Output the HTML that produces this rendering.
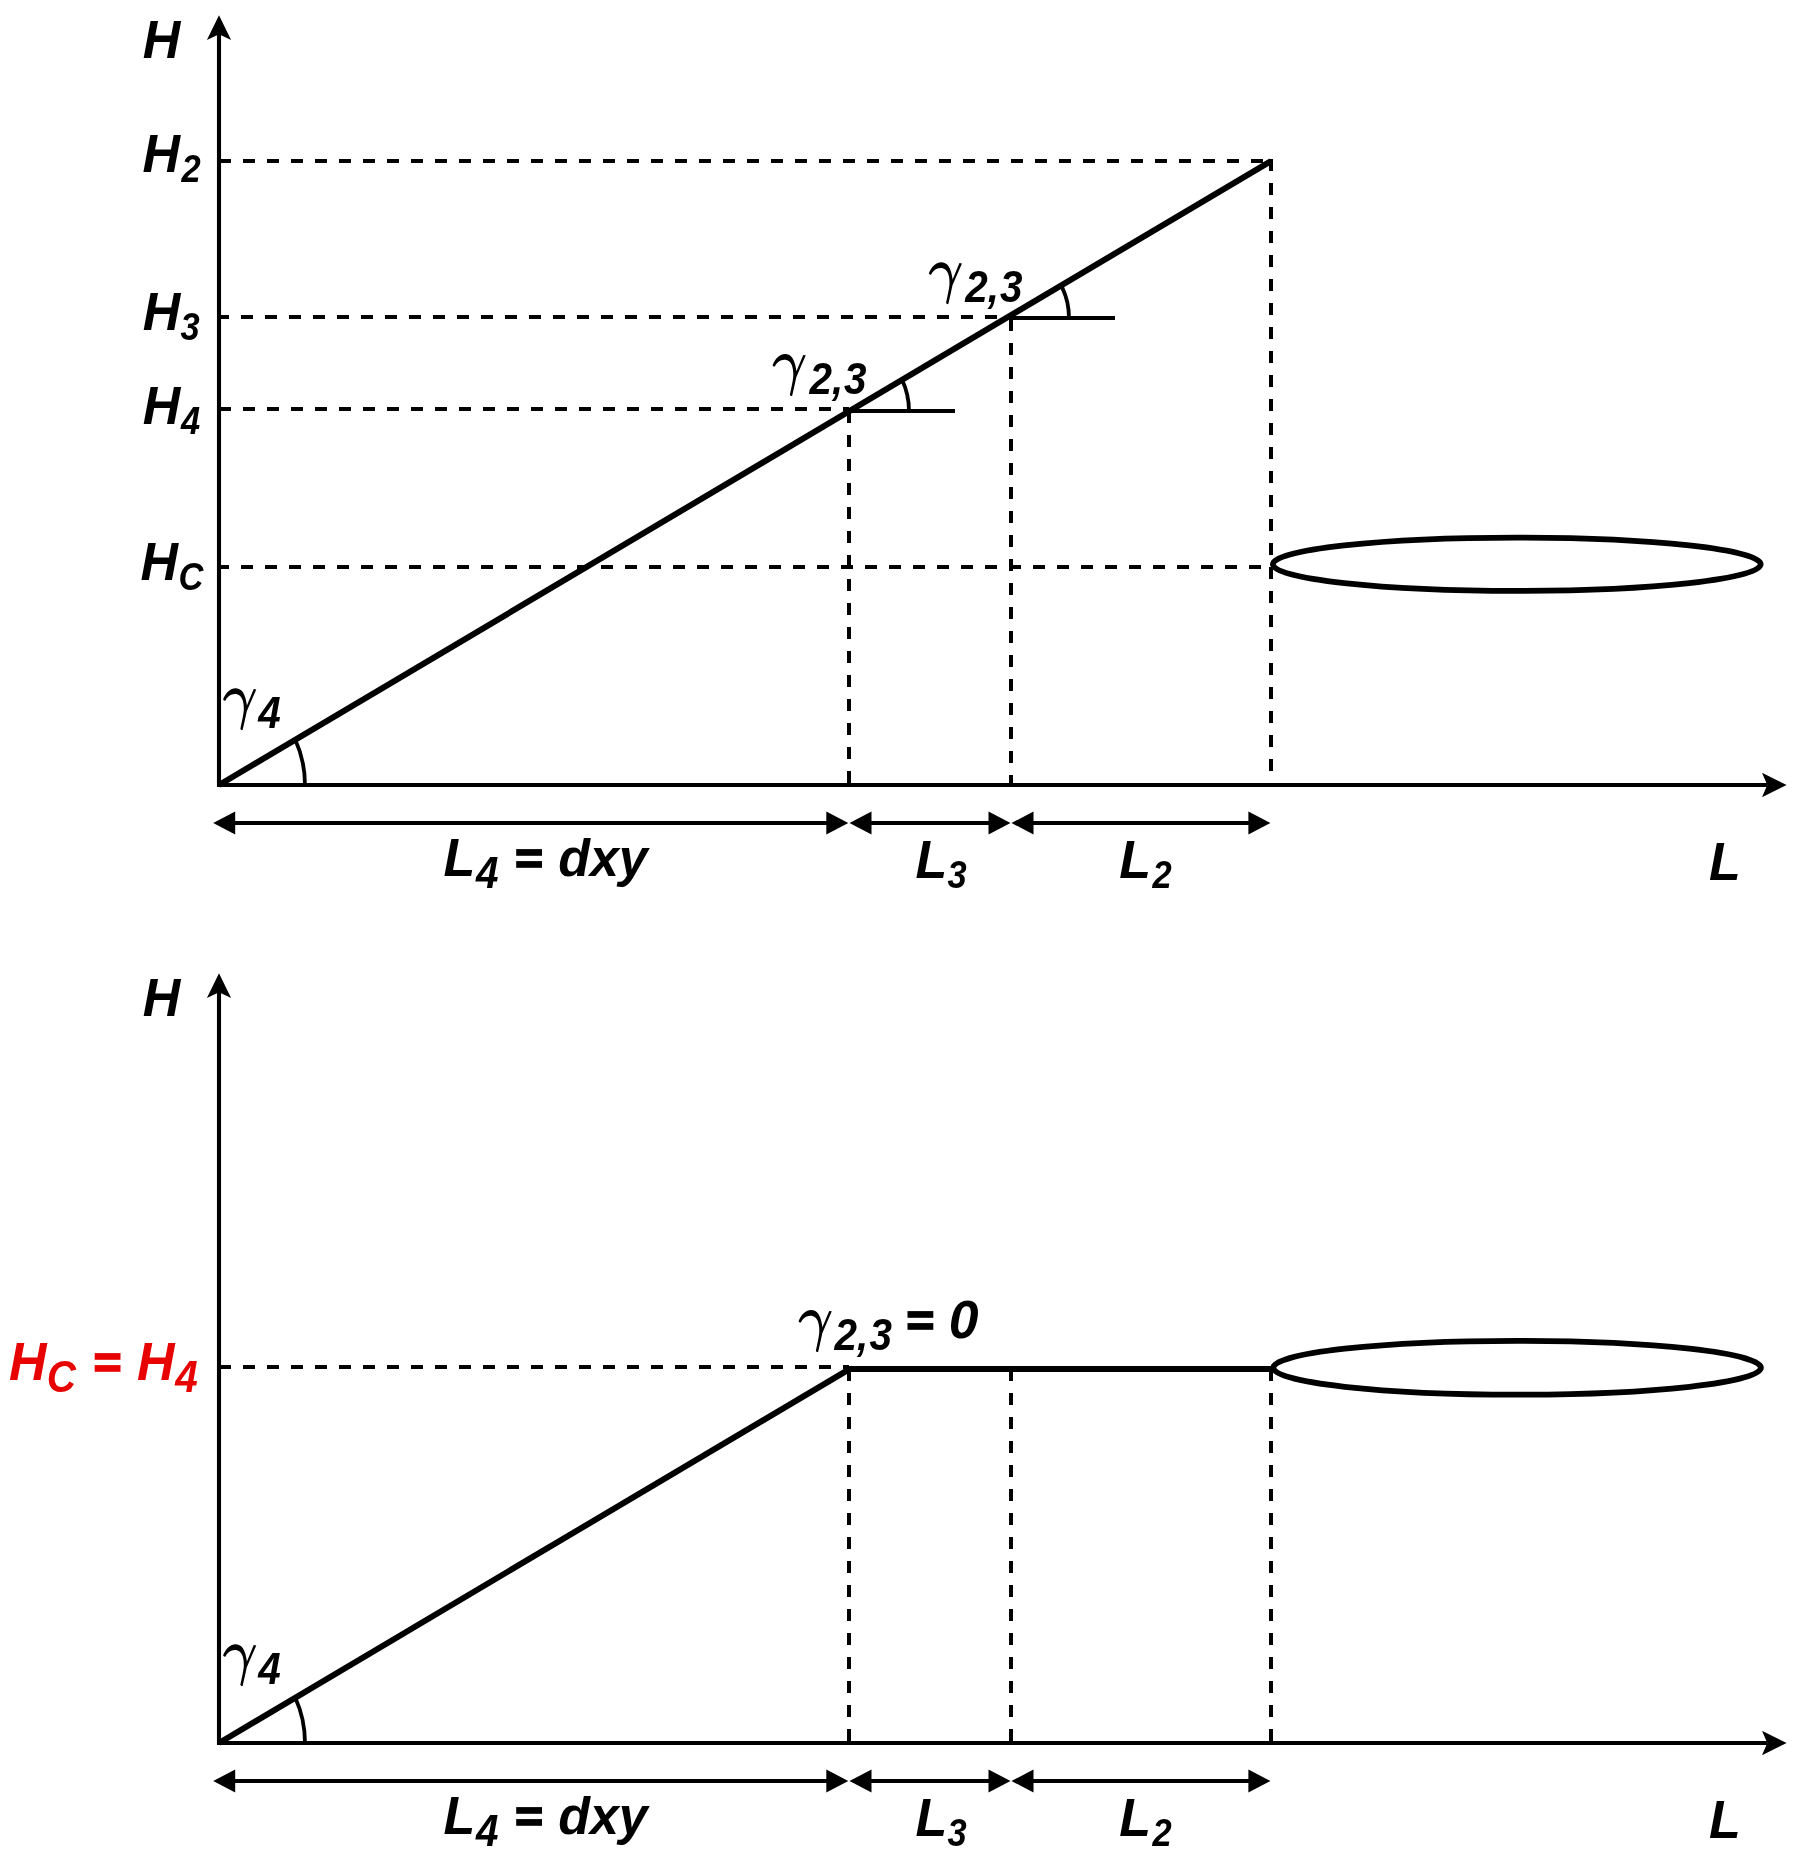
<!DOCTYPE html><html><head><meta charset="utf-8"><style>html,body{margin:0;padding:0;background:#fff;width:1810px;height:1858px;overflow:hidden}text{font-family:"Liberation Sans",sans-serif;font-weight:bold;font-style:italic}</style></head><body><svg width="1810" height="1858" viewBox="0 0 1810 1858" style="position:absolute;left:0;top:0;will-change:transform">
<rect width="1810" height="1858" fill="#fff"/>
<g font-family="Liberation Sans" font-weight="bold" font-style="italic">
<line x1="219" y1="161" x2="1271" y2="161" stroke="#000" stroke-width="4" stroke-linecap="butt" stroke-dasharray="12 12" stroke-dashoffset="0"/>
<line x1="217" y1="317" x2="1011" y2="317" stroke="#000" stroke-width="4" stroke-linecap="butt" stroke-dasharray="12 12" stroke-dashoffset="0"/>
<line x1="219" y1="409" x2="849" y2="409" stroke="#000" stroke-width="4" stroke-linecap="butt" stroke-dasharray="12 12" stroke-dashoffset="0"/>
<line x1="217" y1="567" x2="1271" y2="567" stroke="#000" stroke-width="4" stroke-linecap="butt" stroke-dasharray="12 12" stroke-dashoffset="0"/>
<line x1="849" y1="411" x2="849" y2="785" stroke="#000" stroke-width="4" stroke-linecap="butt" stroke-dasharray="12 12" stroke-dashoffset="0"/>
<line x1="1011" y1="319" x2="1011" y2="785" stroke="#000" stroke-width="4" stroke-linecap="butt" stroke-dasharray="12 12" stroke-dashoffset="0"/>
<line x1="1271" y1="159" x2="1271" y2="785" stroke="#000" stroke-width="4" stroke-linecap="butt" stroke-dasharray="12 12" stroke-dashoffset="0"/>
<line x1="219" y1="787" x2="219" y2="34" stroke="#000" stroke-width="4.1" stroke-linecap="butt"/>
<polygon points="219.00,15.30 231.10,39.90 219.00,34.20 206.90,39.90" fill="#000"/>
<line x1="217" y1="785" x2="1767" y2="785" stroke="#000" stroke-width="4" stroke-linecap="butt"/>
<polygon points="1786.60,785.00 1762.00,797.30 1767.30,785.00 1762.00,772.70" fill="#000"/>
<line x1="234.2" y1="823" x2="827.3" y2="823" stroke="#000" stroke-width="3.9" stroke-linecap="butt"/>
<polygon points="213.20,823.00 235.20,811.50 235.20,834.50" fill="#000"/>
<polygon points="848.30,823.00 826.30,811.50 826.30,834.50" fill="#000"/>
<line x1="870.5" y1="823" x2="989.5" y2="823" stroke="#000" stroke-width="3.9" stroke-linecap="butt"/>
<polygon points="849.50,823.00 871.50,811.50 871.50,834.50" fill="#000"/>
<polygon points="1010.50,823.00 988.50,811.50 988.50,834.50" fill="#000"/>
<line x1="1032.5" y1="823" x2="1249.4" y2="823" stroke="#000" stroke-width="3.9" stroke-linecap="butt"/>
<polygon points="1011.50,823.00 1033.50,811.50 1033.50,834.50" fill="#000"/>
<polygon points="1270.40,823.00 1248.40,811.50 1248.40,834.50" fill="#000"/>
<path d="M 305,785 A 86 98 0 0 0 295.28,739.75" fill="none" stroke="#000" stroke-width="3.8"/>
<line x1="219" y1="785" x2="1271" y2="161" stroke="#000" stroke-width="6" stroke-linecap="butt"/>
<line x1="849" y1="411" x2="955" y2="411" stroke="#000" stroke-width="4" stroke-linecap="butt"/>
<line x1="1011" y1="318" x2="1115" y2="318" stroke="#000" stroke-width="4" stroke-linecap="butt"/>
<path d="M 909,411 A 60 67 0 0 0 901.99,379.57" fill="none" stroke="#000" stroke-width="3.8"/>
<path d="M 1069,318 A 58 65 0 0 0 1062.26,287.59" fill="none" stroke="#000" stroke-width="3.8"/>
<ellipse cx="1516.75" cy="564.3" rx="243.9" ry="26.6" fill="none" stroke="#000" stroke-width="5.8"/>
<text transform="translate(142.69,58.00) scale(0.98,1.0)" font-size="53" fill="#000">H</text>
<path transform="translate(219.33,684.16) scale(0.02692)" d="M 230,605 C 300,450 430,365 570,362 C 720,360 825,440 875,625 C 910,740 915,880 905,1020 C 885,1200 830,1420 782,1660 C 790,1700 840,1720 865,1705 C 920,1480 970,1240 1020,1010 L 1372,195 L 1278,182 L 1025,790 C 1000,620 960,420 870,290 C 800,190 700,150 600,150 C 420,150 240,300 140,565 C 150,600 200,625 230,605 Z" fill="#000"/>
<text transform="translate(258.27,727.80) scale(0.92,1.0)" font-size="44" fill="#000">4</text>
<text transform="translate(443.49,876.00) scale(0.98,1.0)" font-size="53" fill="#000">L</text>
<text transform="translate(475.97,887.50) scale(0.92,1.0)" font-size="44" fill="#000">4</text>
<rect x="516.2" y="849.1" width="25.8" height="6.7" fill="#000"/>
<rect x="516.2" y="861.1" width="25.8" height="6.7" fill="#000"/>
<text transform="translate(558.23,876.00) scale(1.015,1.0)" font-size="51.2" fill="#000">dxy</text>
<text transform="translate(915.39,877.70) scale(0.98,1.0)" font-size="53" fill="#000">L</text>
<text transform="translate(947.43,887.60) scale(0.9,1.0)" font-size="38.3" fill="#000">3</text>
<text transform="translate(1119.29,877.70) scale(0.98,1.0)" font-size="53" fill="#000">L</text>
<text transform="translate(1152.54,887.90) scale(0.9,1.0)" font-size="38.3" fill="#000">2</text>
<text transform="translate(1708.99,880.00) scale(0.98,1.0)" font-size="53" fill="#000">L</text>
<text transform="translate(142.59,171.90) scale(0.98,1.0)" font-size="53" fill="#000">H</text>
<text transform="translate(181.54,181.90) scale(0.9,1.0)" font-size="38.3" fill="#000">2</text>
<text transform="translate(142.69,330.40) scale(0.98,1.0)" font-size="53" fill="#000">H</text>
<text transform="translate(180.43,340.00) scale(0.9,1.0)" font-size="38.3" fill="#000">3</text>
<text transform="translate(142.69,424.40) scale(0.98,1.0)" font-size="53" fill="#000">H</text>
<text transform="translate(180.97,434.00) scale(0.9,1.0)" font-size="38.3" fill="#000">4</text>
<text transform="translate(140.59,579.80) scale(0.98,1.0)" font-size="53" fill="#000">H</text>
<text transform="translate(178.42,589.60) scale(0.9,1.0)" font-size="38.3" fill="#000">C</text>
<path transform="translate(925.03,258.16) scale(0.02692)" d="M 230,605 C 300,450 430,365 570,362 C 720,360 825,440 875,625 C 910,740 915,880 905,1020 C 885,1200 830,1420 782,1660 C 790,1700 840,1720 865,1705 C 920,1480 970,1240 1020,1010 L 1372,195 L 1278,182 L 1025,790 C 1000,620 960,420 870,290 C 800,190 700,150 600,150 C 420,150 240,300 140,565 C 150,600 200,625 230,605 Z" fill="#000"/>
<text transform="translate(965.33,302.00) scale(0.92,1.0)" font-size="44" fill="#000">2,</text>
<text transform="translate(999.88,302.00) scale(0.92,1.0)" font-size="44" fill="#000">3</text>
<path transform="translate(768.83,350.06) scale(0.02692)" d="M 230,605 C 300,450 430,365 570,362 C 720,360 825,440 875,625 C 910,740 915,880 905,1020 C 885,1200 830,1420 782,1660 C 790,1700 840,1720 865,1705 C 920,1480 970,1240 1020,1010 L 1372,195 L 1278,182 L 1025,790 C 1000,620 960,420 870,290 C 800,190 700,150 600,150 C 420,150 240,300 140,565 C 150,600 200,625 230,605 Z" fill="#000"/>
<text transform="translate(809.43,393.80) scale(0.92,1.0)" font-size="44" fill="#000">2,</text>
<text transform="translate(843.98,393.80) scale(0.92,1.0)" font-size="44" fill="#000">3</text>
<line x1="219" y1="1367" x2="849" y2="1367" stroke="#000" stroke-width="4" stroke-linecap="butt" stroke-dasharray="12 12" stroke-dashoffset="0"/>
<line x1="849" y1="1369" x2="849" y2="1743" stroke="#000" stroke-width="4" stroke-linecap="butt" stroke-dasharray="12 12" stroke-dashoffset="0"/>
<line x1="1011" y1="1369" x2="1011" y2="1743" stroke="#000" stroke-width="4" stroke-linecap="butt" stroke-dasharray="12 12" stroke-dashoffset="0"/>
<line x1="1271" y1="1369" x2="1271" y2="1743" stroke="#000" stroke-width="4" stroke-linecap="butt" stroke-dasharray="12 12" stroke-dashoffset="0"/>
<line x1="219" y1="1745" x2="219" y2="992" stroke="#000" stroke-width="4.1" stroke-linecap="butt"/>
<polygon points="219.00,973.30 231.10,997.90 219.00,992.20 206.90,997.90" fill="#000"/>
<line x1="217" y1="1743" x2="1767" y2="1743" stroke="#000" stroke-width="4" stroke-linecap="butt"/>
<polygon points="1786.60,1743.00 1762.00,1755.30 1767.30,1743.00 1762.00,1730.70" fill="#000"/>
<line x1="234.2" y1="1781" x2="827.3" y2="1781" stroke="#000" stroke-width="3.9" stroke-linecap="butt"/>
<polygon points="213.20,1781.00 235.20,1769.50 235.20,1792.50" fill="#000"/>
<polygon points="848.30,1781.00 826.30,1769.50 826.30,1792.50" fill="#000"/>
<line x1="870.5" y1="1781" x2="989.5" y2="1781" stroke="#000" stroke-width="3.9" stroke-linecap="butt"/>
<polygon points="849.50,1781.00 871.50,1769.50 871.50,1792.50" fill="#000"/>
<polygon points="1010.50,1781.00 988.50,1769.50 988.50,1792.50" fill="#000"/>
<line x1="1032.5" y1="1781" x2="1249.4" y2="1781" stroke="#000" stroke-width="3.9" stroke-linecap="butt"/>
<polygon points="1011.50,1781.00 1033.50,1769.50 1033.50,1792.50" fill="#000"/>
<polygon points="1270.40,1781.00 1248.40,1769.50 1248.40,1792.50" fill="#000"/>
<path d="M 305,1743 A 86 98 0 0 0 295.28,1697.75" fill="none" stroke="#000" stroke-width="3.8"/>
<line x1="219" y1="1743" x2="849" y2="1369.3" stroke="#000" stroke-width="6" stroke-linecap="butt"/>
<line x1="846" y1="1369" x2="1271" y2="1369" stroke="#000" stroke-width="6" stroke-linecap="butt"/>
<ellipse cx="1517.1" cy="1367.75" rx="243.8" ry="26.9" fill="none" stroke="#000" stroke-width="5.8"/>
<text transform="translate(142.69,1016.00) scale(0.98,1.0)" font-size="53" fill="#000">H</text>
<path transform="translate(219.33,1640.16) scale(0.02692)" d="M 230,605 C 300,450 430,365 570,362 C 720,360 825,440 875,625 C 910,740 915,880 905,1020 C 885,1200 830,1420 782,1660 C 790,1700 840,1720 865,1705 C 920,1480 970,1240 1020,1010 L 1372,195 L 1278,182 L 1025,790 C 1000,620 960,420 870,290 C 800,190 700,150 600,150 C 420,150 240,300 140,565 C 150,600 200,625 230,605 Z" fill="#000"/>
<text transform="translate(258.27,1683.80) scale(0.92,1.0)" font-size="44" fill="#000">4</text>
<text transform="translate(443.49,1834.00) scale(0.98,1.0)" font-size="53" fill="#000">L</text>
<text transform="translate(475.97,1845.50) scale(0.92,1.0)" font-size="44" fill="#000">4</text>
<rect x="516.2" y="1807.1" width="25.8" height="6.7" fill="#000"/>
<rect x="516.2" y="1819.1" width="25.8" height="6.7" fill="#000"/>
<text transform="translate(558.23,1834.00) scale(1.015,1.0)" font-size="51.2" fill="#000">dxy</text>
<text transform="translate(915.39,1835.70) scale(0.98,1.0)" font-size="53" fill="#000">L</text>
<text transform="translate(947.43,1845.60) scale(0.9,1.0)" font-size="38.3" fill="#000">3</text>
<text transform="translate(1119.29,1835.70) scale(0.98,1.0)" font-size="53" fill="#000">L</text>
<text transform="translate(1152.54,1845.90) scale(0.9,1.0)" font-size="38.3" fill="#000">2</text>
<text transform="translate(1708.99,1838.00) scale(0.98,1.0)" font-size="53" fill="#000">L</text>
<text transform="translate(8.89,1380.00) scale(0.98,1.0)" font-size="53" fill="#e80303">H</text>
<text transform="translate(46.82,1391.50) scale(0.92,1.0)" font-size="44" fill="#e80303">C</text>
<rect x="94.7" y="1353.1" width="25.8" height="6.7" fill="#e80303"/>
<rect x="94.7" y="1365.1" width="25.8" height="6.7" fill="#e80303"/>
<text transform="translate(136.99,1380.00) scale(0.98,1.0)" font-size="53" fill="#e80303">H</text>
<text transform="translate(175.17,1391.80) scale(0.92,1.0)" font-size="44" fill="#e80303">4</text>
<path transform="translate(794.83,1306.06) scale(0.02692)" d="M 230,605 C 300,450 430,365 570,362 C 720,360 825,440 875,625 C 910,740 915,880 905,1020 C 885,1200 830,1420 782,1660 C 790,1700 840,1720 865,1705 C 920,1480 970,1240 1020,1010 L 1372,195 L 1278,182 L 1025,790 C 1000,620 960,420 870,290 C 800,190 700,150 600,150 C 420,150 240,300 140,565 C 150,600 200,625 230,605 Z" fill="#000"/>
<text transform="translate(834.43,1350.30) scale(0.92,1.0)" font-size="44" fill="#000">2,</text>
<text transform="translate(869.38,1350.30) scale(0.92,1.0)" font-size="44" fill="#000">3</text>
<rect x="907.5" y="1311.1" width="25.8" height="6.7" fill="#000"/>
<rect x="907.5" y="1323.1" width="25.8" height="6.7" fill="#000"/>
<text transform="translate(948.68,1338.40) scale(1.0,1.0)" font-size="53.5" fill="#000">0</text>
</g></svg></body></html>
